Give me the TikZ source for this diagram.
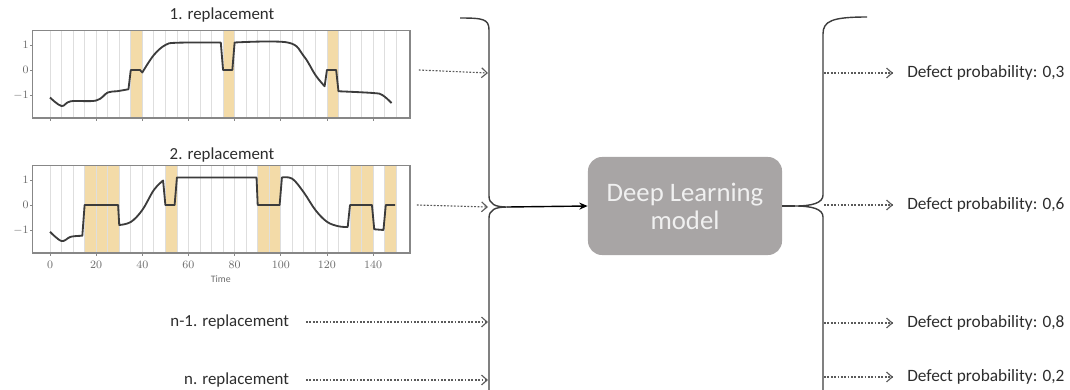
\documentclass[tikz,border=0pt]{standalone}
\usepackage{fontspec}
\setmainfont{Carlito}
\usetikzlibrary{arrows.meta,positioning}

\definecolor{band}{RGB}{243,219,168}
\definecolor{gridgray}{RGB}{222,222,222}
\definecolor{framegray}{RGB}{135,135,135}
\definecolor{curvegray}{RGB}{60,60,60}
\definecolor{textgray}{RGB}{45,45,45}
\definecolor{modelgray}{RGB}{168,165,165}
\definecolor{arrowgray}{RGB}{90,90,90}

\tikzset{
  feed/.style={line width=0.8pt, dash pattern=on 1.3pt off 1.1pt, arrowgray,
    -{Straight Barb[length=4pt, width=7pt, line width=0.8pt]}},
  brace/.style={line width=1pt, curvegray},
  curve/.style={line width=1.3pt, curvegray, line join=round},
  ticklabel/.style={framegray!80!black, font=\fontsize{8}{9}\selectfont, inner sep=1pt},
  title/.style={text=textgray, font=\fontsize{12}{14}\selectfont},
  inlabel/.style={text=textgray, font=\fontsize{12}{14}\selectfont, anchor=east},
  outlabel/.style={text=textgray, font=\fontsize{12.3}{14}\selectfont, anchor=west, inner sep=0pt},
  modelbox/.style={fill=modelgray, rounded corners=10pt, minimum width=4.85cm,
    minimum height=2.45cm, text=white!94!black, align=center,
    font=\fontsize{19}{20}\selectfont}
}

% frame, grid, bands and ticks of one small time plot
\newcommand{\plotbase}[1]{%
  \foreach \b in {#1} {\fill[band] (\b,-1.92) rectangle ++(5,3.5);}
  \foreach \t in {0,5,...,150} {\draw[gridgray, line width=0.6pt] (\t,-1.92) -- (\t,1.58);}
  \draw[framegray, line width=0.8pt] (-7.4,-1.92) rectangle (156,1.58);
  \foreach \t in {0,20,...,140} {\draw[framegray] (\t,-1.92) -- ++(0,-0.1);}
  \foreach \v in {1,0,-1} {
    \draw[framegray] (-7.4,\v) -- ++(-1.3,0);
    \node[ticklabel, anchor=east] at (-8.5,\v) {$\v$};}
}

\begin{document}
\begin{tikzpicture}[x=0.025cm, y=-0.025cm]
  \useasboundingbox (0,0) rectangle (1070,389);
  \clip (0,0) rectangle (1070,389);

  % 1. replacement
  \node[title] (t1) at (222,15) {1. replacement};
  \begin{scope}[shift={(50,70)}, x=0.05768cm, y=0.625cm]
    \plotbase{35,75,120}
    \draw[curve] plot[smooth, tension=0.6] coordinates {(0,-1.1) (5,-1.44) (9,-1.25) (20,-1.22) (25,-0.9) (29,-0.85) (34,-0.77)}
      -- (35,0) -- (39,0) -- (40,-0.1)
      -- plot[smooth, tension=0.6] coordinates {(40,-0.1) (45,0.6) (50,1.0) (55,1.09) (74,1.1)}
      -- (75,0) -- (79,0) -- (80,1.1)
      -- plot[smooth, tension=0.6] coordinates {(80,1.1) (103,1.1) (110,0.55) (115,-0.2) (119,-0.65)}
      -- (120,0) -- (124,0) -- (125,-0.85)
      -- plot[smooth, tension=0.6] coordinates {(125,-0.85) (140,-0.92) (144,-1.0) (148,-1.32)};
    \coordinate (p1) at (156,0);
  \end{scope}

  % 2. replacement
  \node[title] (t2) at (222,155) {2. replacement};
  \begin{scope}[shift={(50,205)}, x=0.05768cm, y=0.625cm]
    \plotbase{15,20,25,50,90,95,130,135,145}
    \foreach \t in {0,20,...,140} {\node[ticklabel, anchor=north] at (\t,-2.2) {$\t$};}
    \node[ticklabel, font=\fontsize{7}{8}\selectfont] at (74,-2.97) {$\mathrm{Time}$};
    \draw[curve] plot[smooth, tension=0.6] coordinates {(0,-1.07) (5,-1.44) (9,-1.27) (14,-1.23)}
      -- (15,0) -- (29.5,0) -- (30,-0.8)
      -- plot[smooth, tension=0.6] coordinates {(30,-0.8) (35,-0.68) (40,-0.2) (45,0.6) (49,0.98)}
      -- (50,0) -- (54,0) -- (55,1.1) -- (89.5,1.1) -- (90,0) -- (99.5,0) -- (100.5,1.1)
      -- plot[smooth, tension=0.6] coordinates {(100.5,1.1) (105,1.05) (110,0.5) (115,-0.2) (120,-0.67) (125,-0.85) (129,-0.88)}
      -- (130,0) -- (139.5,0) -- (140.5,-0.97) -- (144.5,-1.0) -- (145.5,0) -- (149.5,0);
    \coordinate (p2) at (156,0);
  \end{scope}

  % further replacements
  \node[inlabel] (r3) at (294,322) {n-1. replacement};
  \node[inlabel] (r4) at (294,380) {n. replacement};

  % input brace
  \coordinate (inTip) at (507,207);
  \draw[brace] (460,18) .. controls (483,18) and (489,19) .. (489,30) -- (489,196)
    .. controls (489,204) and (495,207) .. (inTip)
    .. controls (495,207) and (489,210) .. (489,218) -- (489,400);
  \coordinate (i1) at (488,73);
  \coordinate (i2) at (488,207);
  \coordinate (i3) at (488,322);
  \coordinate (i4) at (488,380);
  \draw[feed] ([xshift=0.22cm]p1) -- (i1);
  \draw[feed] ([xshift=0.17cm]p2) -- (i2);
  \draw[feed] (r3.east) ++(0.3cm,0) -- (i3);
  \draw[feed] (r4.east) ++(0.3cm,0) -- (i4);

  % model
  \node[modelbox] (model) at (685,206) {Deep Learning\\model};
  \draw[line width=1pt, -{Stealth[length=6pt, width=5pt]}] (inTip) -- (model.west);

  % output brace
  \coordinate (outTip) at (795,206);
  \draw[brace] (model.east) -- (outTip);
  \draw[brace] (867,17) .. controls (832,17) and (823,21) .. (823,34) -- (823,195)
    .. controls (823,203) and (812,206) .. (outTip)
    .. controls (812,206) and (823,209) .. (823,217) -- (823,400);

  % outputs
  \node[outlabel] (o1) at (907,73) {Defect probability: 0,3};
  \node[outlabel] (o2) at (907,205) {Defect probability: 0,6};
  \node[outlabel] (o3) at (907,323) {Defect probability: 0,8};
  \node[outlabel] (o4) at (907,377) {Defect probability: 0,2};
  \draw[feed] (824,73) -- ([xshift=-0.35cm]o1.west);
  \draw[feed] (824,205) -- ([xshift=-0.35cm]o2.west);
  \draw[feed] (824,323) -- ([xshift=-0.35cm]o3.west);
  \draw[feed] (824,377) -- ([xshift=-0.35cm]o4.west);
\end{tikzpicture}
\end{document}
